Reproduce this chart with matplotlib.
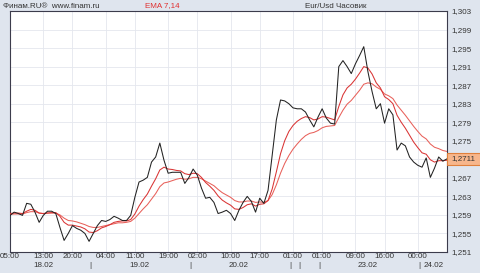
import matplotlib
matplotlib.use('Agg')
import numpy as np
import matplotlib.pyplot as plt
import matplotlib.transforms as mtransforms
from matplotlib.patches import Rectangle

# Eur/Usd hourly closes, 18.02 05:00 .. 24.02
close = [1.2589, 1.2596, 1.2593, 1.2589, 1.2615, 1.2613, 1.2596, 1.2574, 1.2589, 1.2598,
         1.2598, 1.2593, 1.2563, 1.2535, 1.2550, 1.2567, 1.2561, 1.2557, 1.2550, 1.2533,
         1.2550, 1.2567, 1.2578, 1.2576, 1.2580, 1.2587, 1.2583, 1.2578, 1.2578, 1.2589,
         1.2628, 1.2661, 1.2665, 1.2671, 1.2704, 1.2715, 1.2745, 1.2708, 1.2680, 1.2682,
         1.2682, 1.2682, 1.2658, 1.2671, 1.2689, 1.2676, 1.2648, 1.2626, 1.2628, 1.2617,
         1.2593, 1.2596, 1.2600, 1.2593, 1.2578, 1.2600, 1.2617, 1.2630, 1.2619, 1.2596,
         1.2626, 1.2615, 1.2643, 1.2719, 1.2795, 1.2838, 1.2836, 1.2830, 1.2821, 1.2819,
         1.2819, 1.2812, 1.2795, 1.2780, 1.2801, 1.2819, 1.2799, 1.2788, 1.2786, 1.2910,
         1.2923, 1.2910, 1.2895, 1.2916, 1.2934, 1.2953, 1.2899, 1.2856, 1.2819, 1.2830,
         1.2788, 1.2819, 1.2806, 1.2730, 1.2745, 1.2739, 1.2715, 1.2704, 1.2697, 1.2693,
         1.2713, 1.2671, 1.2691, 1.2715, 1.2706, 1.2711]

ema7 = [1.2593, 1.2594, 1.2594, 1.2593, 1.2598, 1.2602, 1.2600, 1.2594, 1.2593, 1.2594,
        1.2595, 1.2595, 1.2587, 1.2574, 1.2568, 1.2568, 1.2566, 1.2564, 1.2560, 1.2553,
        1.2552, 1.2556, 1.2562, 1.2565, 1.2569, 1.2574, 1.2576, 1.2577, 1.2577, 1.2580,
        1.2592, 1.2609, 1.2623, 1.2635, 1.2652, 1.2668, 1.2687, 1.2693, 1.2689, 1.2688,
        1.2686, 1.2685, 1.2679, 1.2677, 1.2680, 1.2679, 1.2671, 1.2660, 1.2652, 1.2643,
        1.2631, 1.2622, 1.2616, 1.2611, 1.2603, 1.2602, 1.2606, 1.2612, 1.2614, 1.2609,
        1.2613, 1.2614, 1.2621, 1.2646, 1.2683, 1.2722, 1.2750, 1.2770, 1.2783, 1.2792,
        1.2798, 1.2802, 1.2800, 1.2795, 1.2797, 1.2802, 1.2801, 1.2798, 1.2795, 1.2824,
        1.2849, 1.2864, 1.2872, 1.2883, 1.2896, 1.2910, 1.2907, 1.2894, 1.2875, 1.2864,
        1.2845, 1.2839, 1.2830, 1.2805, 1.2790, 1.2777, 1.2762, 1.2747, 1.2735, 1.2724,
        1.2721, 1.2709, 1.2704, 1.2707, 1.2707, 1.2708]

ema14 = [1.2591, 1.2592, 1.2592, 1.2592, 1.2595, 1.2597, 1.2597, 1.2594, 1.2593, 1.2594,
         1.2594, 1.2594, 1.2590, 1.2583, 1.2578, 1.2577, 1.2575, 1.2572, 1.2569, 1.2565,
         1.2563, 1.2563, 1.2565, 1.2567, 1.2569, 1.2571, 1.2573, 1.2573, 1.2574, 1.2576,
         1.2583, 1.2593, 1.2603, 1.2612, 1.2624, 1.2636, 1.2651, 1.2659, 1.2661, 1.2664,
         1.2667, 1.2669, 1.2667, 1.2668, 1.2671, 1.2671, 1.2668, 1.2663, 1.2658, 1.2653,
         1.2645, 1.2638, 1.2633, 1.2628, 1.2621, 1.2618, 1.2618, 1.2620, 1.2620, 1.2617,
         1.2618, 1.2617, 1.2621, 1.2634, 1.2655, 1.2680, 1.2701, 1.2718, 1.2732, 1.2743,
         1.2753, 1.2761, 1.2766, 1.2768, 1.2772, 1.2778, 1.2781, 1.2782, 1.2783, 1.2800,
         1.2816, 1.2829, 1.2837, 1.2848, 1.2859, 1.2872, 1.2875, 1.2873, 1.2866, 1.2861,
         1.2851, 1.2847, 1.2841, 1.2827, 1.2816, 1.2805, 1.2793, 1.2781, 1.2770, 1.2760,
         1.2754, 1.2743, 1.2736, 1.2733, 1.2729, 1.2727]

hour_ticks = [0, 8, 15, 23, 30, 38, 45, 53, 60, 68, 75, 83, 90, 98]
hour_labels = ['05:00', '13:00', '20:00', '04:00', '11:00', '19:00', '02:00',
               '10:00', '17:00', '01:00', '01:00', '09:00', '16:00', '00:00']
day_marks = [19, 43, 67, 69, 74, 98]
date_pos = [8, 31, 55, 86]
date_labels = ['18.02', '19.02', '20.02', '23.02']
last_date = '24.02'

plt.rcParams['font.family'] = ['Liberation Sans', 'DejaVu Sans']

bg = '#dfe5ee'
txt = '#333333'
fs = 5.8

x = np.arange(len(close))

fig = plt.figure(figsize=(4.8, 2.73), dpi=100)
fig.patch.set_facecolor(bg)
ax = fig.add_axes([10 / 480, 21 / 273, 437 / 480, 241 / 273])
ax.set_facecolor('white')

ax.plot(x, ema14, color='#e8605a', lw=0.75, zorder=3)
ax.plot(x, ema7, color='#d93434', lw=0.75, zorder=3)
ax.plot(x, close, color='#222222', lw=0.75, zorder=4)

ax.set_xlim(0, len(close) - 1)
ax.set_ylim(1.251, 1.303)

# right side price axis
yt = np.arange(1.251, 1.3031, 0.004)
last = close[-1]
ylabs = []
for v in yt:
    if abs(v - last) < 0.001:
        ylabs.append('')
    else:
        ylabs.append(('%.3f' % v).replace('.', ','))
ax.set_yticks(yt)
ax.set_yticklabels(ylabs)
ax.yaxis.tick_right()
ax.set_xticks(hour_ticks)
ax.set_xticklabels(hour_labels)
ax.tick_params(axis='both', length=0, labelsize=fs, colors=txt)
ax.tick_params(axis='y', pad=3.5)
ax.tick_params(axis='x', pad=0.8)

ax.grid(True, color='#e4e7ee', lw=0.6)
ax.set_axisbelow(True)
for s in ax.spines.values():
    s.set_color('#3c3c4c')
    s.set_linewidth(0.8)

# second row: dates and day separators
tr = mtransforms.blended_transform_factory(ax.transData, ax.transAxes)
for p, lab in zip(date_pos, date_labels):
    ax.text(p, -0.056, lab, transform=tr, ha='center', va='center',
            fontsize=fs, color=txt, clip_on=False)
for d in day_marks:
    ax.text(d + 0.4, -0.056, '|', transform=tr, ha='center', va='center',
            fontsize=fs, color=txt, clip_on=False)
ax.text(day_marks[-1] + 1.3, -0.056, last_date, transform=tr, ha='left', va='center',
        fontsize=fs, color=txt, clip_on=False)

# last price marker
tr2 = mtransforms.blended_transform_factory(ax.transAxes, ax.transData)
ax.add_patch(Rectangle((1.0, last - 0.0013), 0.08, 0.0026, transform=tr2,
                       facecolor='#f7b68c', edgecolor='#e0803c', lw=0.8,
                       clip_on=False, zorder=5))
ax.text(1.01, last, ('%.4f' % last).replace('.', ','), transform=tr2,
        ha='left', va='center', fontsize=fs, color=txt, zorder=6, clip_on=False)

# header
fig.text(3 / 480, 1 - 6 / 273, 'Финам.RU®  www.finam.ru', ha='left', va='center',
         fontsize=fs, color=txt)
fig.text(145 / 480, 1 - 6 / 273, 'EMA 7,14', ha='left', va='center',
         fontsize=fs, color='#e03030')
fig.text(336 / 480, 1 - 6 / 273, 'Eur/Usd Часовик', ha='center', va='center',
         fontsize=fs, color=txt)

fig.savefig('out.png', dpi=100, facecolor=bg)
